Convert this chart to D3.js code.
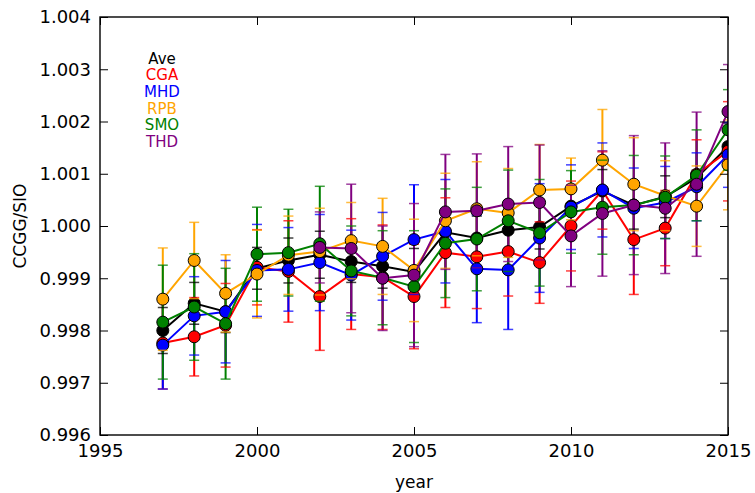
<!DOCTYPE html>
<html>
<head>
<meta charset="utf-8">
<script src="https://cdn.jsdelivr.net/npm/d3@7/dist/d3.min.js"></script>
<style>
  html, body { margin: 0; padding: 0; background: #fff; }
  svg { display: block; font-family: "DejaVu Sans", sans-serif; }
</style>
</head>
<body>
<svg id="chart" width="755" height="493"></svg>
<script>
// Station-to-SIO ratio per year, with 1-sigma uncertainties
const years = [1997, 1998, 1999, 2000, 2001, 2002, 2003, 2004, 2005, 2006,
               2007, 2008, 2009, 2010, 2011, 2012, 2013, 2014, 2015];

const aveVals = [0.99800, 0.99852, 0.99836, 0.99919, 0.99934, 0.99945, 0.99932, 0.99923, 0.99912, 0.99988,
                 0.99977, 0.99992, 0.99998, 1.00038, 1.00067, 1.00040, 1.00056, 1.00092, 1.00152];
const aveErr  = [0.00044, 0.00040, 0.00040, 0.00040, 0.00043, 0.00045, 0.00040, 0.00042, 0.00045, 0.00042,
                 0.00042, 0.00042, 0.00042, 0.00040, 0.00041, 0.00046, 0.00040, 0.00015, 0.00045];

const cgaVals = [0.99776, 0.99788, 0.99810, 0.99921, 0.99913, 0.99865, 0.99908, 0.99902, 0.99865, 0.99949,
                 0.99941, 0.99951, 0.99930, 1.00000, 1.00068, 0.99974, 0.99996, 1.00099, 1.00143];
const cgaErr  = [0.00088, 0.00075, 0.00080, 0.00072, 0.00097, 0.00103, 0.00106, 0.00100, 0.00100, 0.00105,
                 0.00099, 0.00085, 0.00078, 0.00086, 0.00074, 0.00105, 0.00072, 0.00066, 0.00095];

const mhdVals = [0.99772, 0.99828, 0.99836, 0.99915, 0.99917, 0.99930, 0.99906, 0.99942, 0.99974, 0.99990,
                 0.99918, 0.99916, 0.99977, 1.00036, 1.00069, 1.00034, 1.00045, 1.00075, 1.00136];
const mhdErr  = [0.00084, 0.00075, 0.00098, 0.00088, 0.00080, 0.00092, 0.00086, 0.00084, 0.00105, 0.00099,
                 0.00103, 0.00114, 0.00104, 0.00081, 0.00090, 0.00077, 0.00069, 0.00065, 0.00062];

const rpbVals = [0.99860, 0.99934, 0.99871, 0.99908, 0.99944, 0.99951, 0.99972, 0.99961, 0.99915, 1.00010,
                 1.00033, 1.00025, 1.00069, 1.00071, 1.00126, 1.00080, 1.00058, 1.00038, 1.00117];
const rpbErr  = [0.00098, 0.00073, 0.00074, 0.00084, 0.00075, 0.00083, 0.00073, 0.00092, 0.00098, 0.00091,
                 0.00090, 0.00085, 0.00087, 0.00059, 0.00097, 0.00089, 0.00067, 0.00077, 0.00086];

const smoVals = [0.99816, 0.99845, 0.99813, 0.99946, 0.99949, 0.99966, 0.99914, 0.99901, 0.99884, 0.99967,
                 0.99975, 1.00010, 0.99987, 1.00027, 1.00036, 1.00040, 1.00055, 1.00097, 1.00184];
const smoErr  = [0.00109, 0.00102, 0.00106, 0.00090, 0.00083, 0.00110, 0.00086, 0.00090, 0.00107, 0.00104,
                 0.00099, 0.00097, 0.00102, 0.00079, 0.00090, 0.00095, 0.00079, 0.00087, 0.00077];

const thdVals = [null, null, null, null, null, 0.99959, 0.99957, 0.99900, 0.99906, 1.00027,
                 1.00029, 1.00042, 1.00045, 0.99981, 1.00024, 1.00040, 1.00034, 1.00080, 1.00219];
const thdErr  = [null, null, null, null, null, 0.00068, 0.00123, 0.00100, 0.00137, 0.00110,
                 0.00109, 0.00110, 0.00110, 0.00097, 0.00120, 0.00133, 0.00125, 0.00138, 0.00090];

const seriesNames  = ["Ave", "CGA", "MHD", "RPB", "SMO", "THD"];
const seriesColors = ["#000000", "#ff0000", "#0000ff", "#ffa500", "#008000", "#800080"];
const seriesVals   = [aveVals, cgaVals, mhdVals, rpbVals, smoVals, thdVals];
const seriesErrs   = [aveErr, cgaErr, mhdErr, rpbErr, smoErr, thdErr];

const xTicks = [1995, 2000, 2005, 2010, 2015];
const yTicks = [0.996, 0.997, 0.998, 0.999, 1.000, 1.001, 1.002, 1.003, 1.004];

// Plot frame
const frameLeft = 100, frameRight = 728, frameTop = 17, frameBottom = 435;
const svg = d3.select("#chart");

const x = d3.scaleLinear().domain([1995, 2015]).range([frameLeft, frameRight]);
const y = d3.scaleLinear().domain([0.996, 1.004]).range([frameBottom, frameTop]);

const series = seriesNames.map((name, i) => ({
  name,
  color: seriesColors[i],
  points: years.map((yr, j) => ({ year: yr, v: seriesVals[i][j], e: seriesErrs[i][j] }))
                .filter(p => p.v !== null)
}));

svg.append("defs").append("clipPath").attr("id", "plotClip")
  .append("rect").attr("x", frameLeft).attr("y", frameTop)
  .attr("width", frameRight - frameLeft).attr("height", frameBottom - frameTop);

const plot = svg.append("g").attr("clip-path", "url(#plotClip)");

// Vertical error bars sit underneath all lines and markers
const barLayer = plot.append("g");
series.forEach(s => {
  barLayer.selectAll(null).data(s.points).enter().append("line")
    .attr("x1", d => x(d.year)).attr("x2", d => x(d.year))
    .attr("y1", d => y(d.v - d.e)).attr("y2", d => y(d.v + d.e))
    .attr("stroke", s.color).attr("stroke-width", 2);
});

const line = d3.line().x(d => x(d.year)).y(d => y(d.v));
const capHalf = 5;

series.forEach(s => {
  const g = plot.append("g");
  g.append("path").datum(s.points)
    .attr("d", line).attr("fill", "none")
    .attr("stroke", s.color).attr("stroke-width", 2);
  g.selectAll("circle").data(s.points).enter().append("circle")
    .attr("cx", d => x(d.year)).attr("cy", d => y(d.v)).attr("r", 6)
    .attr("fill", s.color).attr("stroke", "#000").attr("stroke-width", 1);
  // caps at both ends of each error bar
  const caps = s.points.flatMap(d => [{ year: d.year, v: d.v + d.e }, { year: d.year, v: d.v - d.e }]);
  g.selectAll("line.cap").data(caps).enter().append("line")
    .attr("class", "cap")
    .attr("x1", d => x(d.year) - capHalf).attr("x2", d => x(d.year) + capHalf)
    .attr("y1", d => y(d.v)).attr("y2", d => y(d.v))
    .attr("stroke", s.color).attr("stroke-width", 1.5).attr("stroke-opacity", 0.75);
});

// Axes: inward ticks on all four sides, labels on bottom and left
const fmtY = d3.format(".3f");
const bottomAxis = svg.append("g").attr("transform", `translate(0,${frameBottom})`)
  .call(d3.axisBottom(x).tickValues(xTicks).tickFormat(d3.format("d")).tickSize(-8).tickPadding(9));
const leftAxis = svg.append("g").attr("transform", `translate(${frameLeft},0)`)
  .call(d3.axisLeft(y).tickValues(yTicks).tickFormat(fmtY).tickSize(-8).tickPadding(9));
const topAxis = svg.append("g").attr("transform", `translate(0,${frameTop})`)
  .call(d3.axisTop(x).tickValues(xTicks).tickFormat("").tickSize(-8));
const rightAxis = svg.append("g").attr("transform", `translate(${frameRight},0)`)
  .call(d3.axisRight(y).tickValues(yTicks).tickFormat("").tickSize(-8));

[bottomAxis, leftAxis, topAxis, rightAxis].forEach(a => {
  a.select(".domain").remove();
  a.selectAll(".tick line").attr("stroke", "#000").attr("stroke-width", 1);
  a.selectAll(".tick text").attr("fill", "#000").style("font-size", "18px")
    .style("font-family", "'DejaVu Sans', sans-serif");
});

svg.append("rect").attr("x", frameLeft).attr("y", frameTop)
  .attr("width", frameRight - frameLeft).attr("height", frameBottom - frameTop)
  .attr("fill", "none").attr("stroke", "#000").attr("stroke-width", 1.4);

// Axis titles
svg.append("text").attr("x", (frameLeft + frameRight) / 2).attr("y", 488)
  .attr("text-anchor", "middle").style("font-size", "17px").text("year");
svg.append("text").attr("transform", `translate(26,${(frameTop + frameBottom) / 2}) rotate(-90)`)
  .attr("text-anchor", "middle").style("font-size", "17px").text("CCGG/SIO");

// Station key: names written in their series colour
svg.append("g").selectAll("text").data(series).enter().append("text")
  .attr("x", 162).attr("y", (d, i) => 58.5 + i * 16.7)
  .attr("text-anchor", "middle").attr("dominant-baseline", "central")
  .style("font-size", "15px").attr("fill", d => d.color).text(d => d.name);
</script>
</body>
</html>
